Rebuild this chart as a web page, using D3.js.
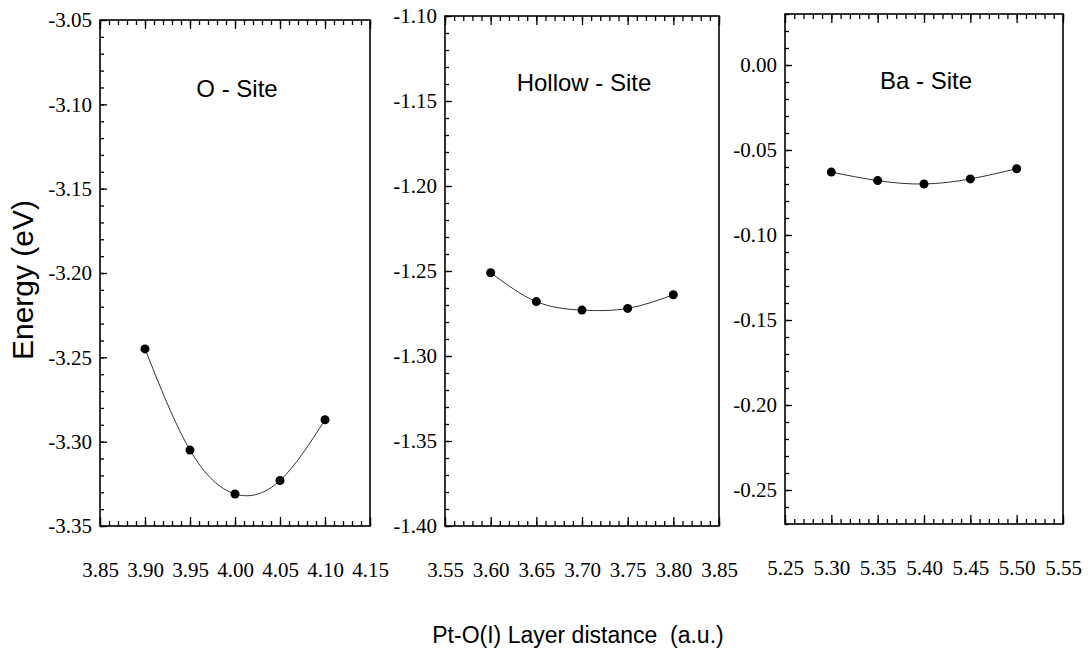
<!DOCTYPE html>
<html>
<head>
<meta charset="utf-8">
<script src="https://cdn.jsdelivr.net/npm/d3@7"></script>
<style>
  html, body { margin: 0; padding: 0; background: #fff; }
  svg { display: block; }
</style>
</head>
<body>
<svg id="chart" width="1089" height="652"></svg>
<script>
// ---- data ----
const panelTitles = ["O - Site", "Hollow - Site", "Ba - Site"];

const xO = [3.90, 3.95, 4.00, 4.05, 4.10];
const eO = [-3.245, -3.305, -3.331, -3.323, -3.287];

const xHollow = [3.60, 3.65, 3.70, 3.75, 3.80];
const eHollow = [-1.251, -1.268, -1.273, -1.272, -1.264];

const xBa = [5.30, 5.35, 5.40, 5.45, 5.50];
const eBa = [-0.063, -0.068, -0.070, -0.067, -0.061];

const xTicksO = [3.85, 3.90, 3.95, 4.00, 4.05, 4.10, 4.15];
const xTicksHollow = [3.55, 3.60, 3.65, 3.70, 3.75, 3.80, 3.85];
const xTicksBa = [5.25, 5.30, 5.35, 5.40, 5.45, 5.50, 5.55];

const yTicksO = [-3.05, -3.10, -3.15, -3.20, -3.25, -3.30, -3.35];
const yTicksHollow = [-1.10, -1.15, -1.20, -1.25, -1.30, -1.35, -1.40];
const yTicksBa = [0.00, -0.05, -0.10, -0.15, -0.20, -0.25];

const xDomains = [[3.85, 4.15], [3.55, 3.85], [5.25, 5.55]];
const yDomains = [[-3.35, -3.05], [-1.40, -1.10], [-0.27, 0.03]];

const yAxisTitle = "Energy (eV)";
const xAxisTitle = "Pt-O(I) Layer distance  (a.u.)";

// ---- layout ----
const panels = [
  { title: panelTitles[0], xs: xO, ys: eO, xt: xTicksO, yt: yTicksO, xd: xDomains[0], yd: yDomains[0],
    left: 100, right: 370, top: 20, bottom: 526, titleY: 97 },
  { title: panelTitles[1], xs: xHollow, ys: eHollow, xt: xTicksHollow, yt: yTicksHollow, xd: xDomains[1], yd: yDomains[1],
    left: 445, right: 719, top: 16, bottom: 526, titleY: 91 },
  { title: panelTitles[2], xs: xBa, ys: eBa, xt: xTicksBa, yt: yTicksBa, xd: xDomains[2], yd: yDomains[2],
    left: 785, right: 1063, top: 14, bottom: 524, titleY: 89 }
];

const svg = d3.select("#chart");
const sans = "'Liberation Sans', Arial, sans-serif";
const serif = "'Liberation Serif', 'DejaVu Serif', serif";

function minorValues(domain, step) {
  const [a, b] = domain;
  const n = Math.round((b - a) / step);
  return d3.range(n + 1).map(i => +(a + i * step).toFixed(4));
}

panels.forEach(p => {
  const x = d3.scaleLinear().domain(p.xd).range([p.left, p.right]);
  const y = d3.scaleLinear().domain(p.yd).range([p.bottom, p.top]);
  const g = svg.append("g");

  const xMinor = minorValues(p.xd, 0.01);
  const yMinor = minorValues(p.yd, 0.01);
  const fmt = d => d3.format(".2f")(d).replace("\u2212", "-");

  // left axis: major ticks with labels (inward)
  const left = g.append("g").attr("transform", `translate(${p.left},0)`)
    .call(d3.axisLeft(y).tickValues(p.yt).tickSizeInner(-7).tickSizeOuter(0).tickPadding(8).tickFormat(fmt));
  left.attr("font-family", serif).attr("font-size", 21);
  left.selectAll("text").style("font-family", serif).style("font-size", "21px").attr("fill", "#000");
  g.append("g").attr("transform", `translate(${p.left},0)`)
    .call(d3.axisLeft(y).tickValues(yMinor).tickSizeInner(-4).tickSizeOuter(0).tickFormat(""));

  // bottom axis: ticks upward, labels far below
  const bottom = g.append("g").attr("transform", `translate(0,${p.bottom})`)
    .call(d3.axisBottom(x).tickValues(p.xt).tickSizeInner(-9).tickSizeOuter(0).tickPadding(36).tickFormat(fmt));
  bottom.attr("font-family", serif).attr("font-size", 21);
  bottom.selectAll("text").style("font-family", serif).style("font-size", "21px").attr("fill", "#000");
  g.append("g").attr("transform", `translate(0,${p.bottom})`)
    .call(d3.axisBottom(x).tickValues(xMinor).tickSizeInner(-5).tickSizeOuter(0).tickFormat(""));

  // top axis: ticks downward, no labels
  g.append("g").attr("transform", `translate(0,${p.top})`)
    .call(d3.axisTop(x).tickValues(p.xt).tickSizeInner(-9).tickSizeOuter(0).tickFormat(""));
  g.append("g").attr("transform", `translate(0,${p.top})`)
    .call(d3.axisTop(x).tickValues(xMinor).tickSizeInner(-5).tickSizeOuter(0).tickFormat(""));

  g.selectAll(".domain").remove();
  g.selectAll(".tick line").attr("stroke", "#000").attr("stroke-width", 1.3);

  // frame
  g.append("rect")
    .attr("x", p.left).attr("y", p.top)
    .attr("width", p.right - p.left).attr("height", p.bottom - p.top)
    .attr("fill", "none").attr("stroke", "#000").attr("stroke-width", 1.6);

  // curve
  const pts = p.xs.map((v, i) => [v, p.ys[i]]);
  g.append("path")
    .datum(pts)
    .attr("fill", "none").attr("stroke", "#333").attr("stroke-width", 1)
    .attr("d", d3.line().x(d => x(d[0])).y(d => y(d[1])).curve(d3.curveNatural));

  // points
  g.selectAll("circle.pt").data(pts).enter().append("circle")
    .attr("class", "pt")
    .attr("cx", d => x(d[0])).attr("cy", d => y(d[1])).attr("r", 4.5)
    .attr("fill", "#000");

  // panel title
  g.append("text")
    .attr("x", (p.left + p.right) / 2 + 2).attr("y", p.titleY)
    .attr("text-anchor", "middle")
    .style("font-family", sans).style("font-size", "24px").attr("fill", "#000")
    .text(p.title);
});

// axis titles
svg.append("text")
  .attr("transform", "translate(33,280) rotate(-90)")
  .attr("text-anchor", "middle")
  .style("font-family", sans).style("font-size", "30px").attr("fill", "#000")
  .text(yAxisTitle);

svg.append("text")
  .attr("x", 578).attr("y", 643)
  .attr("text-anchor", "middle")
  .style("font-family", sans).style("font-size", "23px").attr("fill", "#000")
  .style("white-space", "pre")
  .text(xAxisTitle);
</script>
</body>
</html>
